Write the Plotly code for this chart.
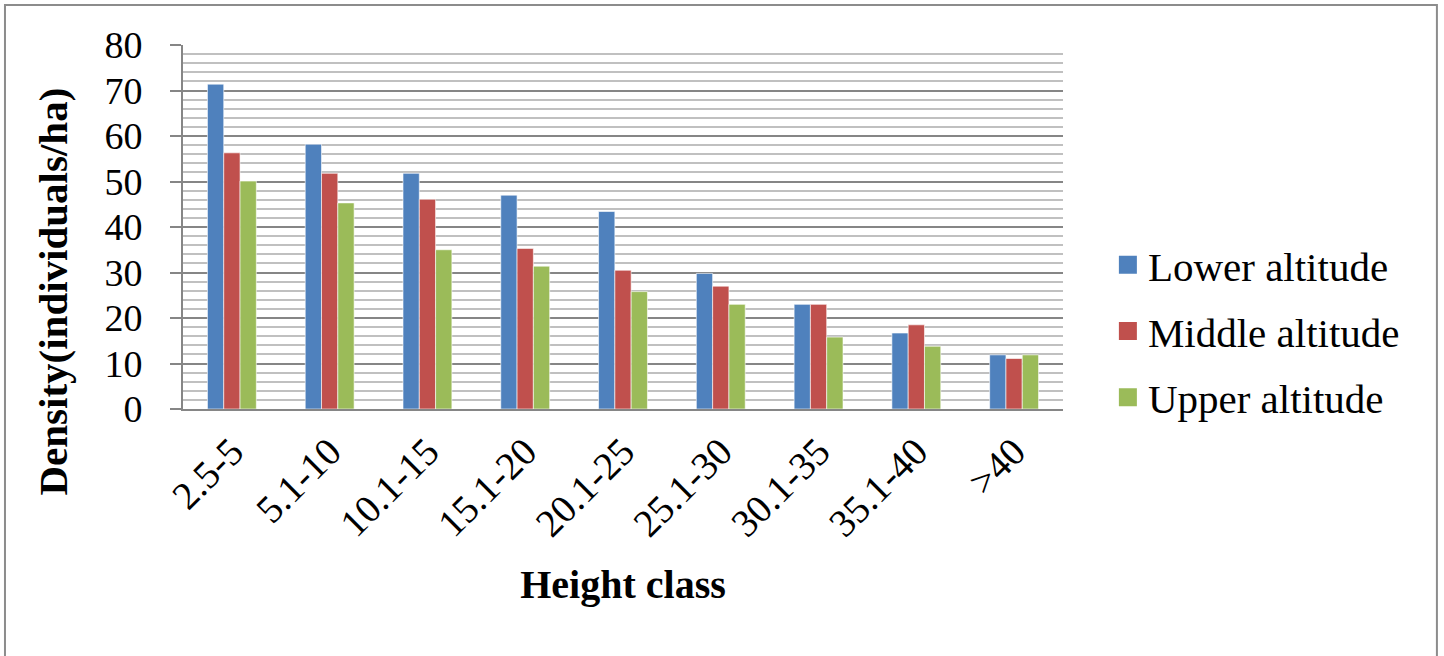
import plotly.graph_objects as go

# Height classes (m) and stem density per altitude zone
height_classes = ["2.5-5", "5.1-10", "10.1-15", "15.1-20", "20.1-25",
                  "25.1-30", "30.1-35", "35.1-40", ">40"]
lower_altitude = [71.4, 58.2, 51.8, 47.0, 43.4, 29.8, 23.0, 16.7, 11.9]
middle_altitude = [56.3, 51.8, 46.1, 35.3, 30.5, 27.0, 23.0, 18.5, 11.1]
upper_altitude = [50.1, 45.3, 35.0, 31.4, 25.8, 23.0, 15.8, 13.8, 11.9]

series = [
    ("Lower altitude", lower_altitude, "#4F81BD"),
    ("Middle altitude", middle_altitude, "#C0504D"),
    ("Upper altitude", upper_altitude, "#9BBB59"),
]

FONT = "Liberation Serif, Times New Roman, serif"

fig = go.Figure()
for i, (name, vals, color) in enumerate(series):
    fig.add_trace(go.Bar(
        x=height_classes, y=vals, name=name,
        marker=dict(color=color, line=dict(color="rgba(255,255,255,0.6)", width=1)),
        legendgroup=f"g{i}", showlegend=False,
    ))
    # larger square swatch for the legend entry
    fig.add_trace(go.Scatter(
        x=[None], y=[None], mode="markers", name=name,
        marker=dict(symbol="square", size=16, color=color,
                    line=dict(color=color, width=2)),
        legendgroup=f"g{i}", showlegend=True,
    ))

fig.update_layout(
    width=1444, height=656,
    margin=dict(l=183, r=381, t=45, b=247),
    paper_bgcolor="white", plot_bgcolor="white",
    barmode="group", bargap=0.5, bargroupgap=0,
    font=dict(family=FONT, color="black", size=38),
    legend=dict(
        x=1.051, xanchor="left", y=0.214, yanchor="middle",
        font=dict(family=FONT, size=41, color="black"),
        tracegroupgap=10, itemwidth=30, itemsizing="trace",
        bgcolor="rgba(0,0,0,0)",
    ),
    shapes=[dict(
        type="rect", xref="paper", yref="paper",
        x0=-0.2023, x1=1.4249, y0=-0.70, y1=1.11,
        line=dict(color="#8c8c8c", width=2), fillcolor="rgba(0,0,0,0)",
        layer="below",
    )],
    annotations=[dict(
        text="<b>Density(individuals/ha)</b>", textangle=-90,
        xref="paper", yref="paper", x=-0.148, y=0.322,
        xanchor="center", yanchor="middle", showarrow=False,
        font=dict(family=FONT, size=41, color="black"),
    )],
)

fig.update_yaxes(
    range=[0, 80], dtick=10, tick0=0,
    showgrid=True, gridcolor="#868686", gridwidth=2,
    minor=dict(dtick=2, showgrid=True, gridcolor="#c0c0c0", gridwidth=2),
    showline=True, linecolor="#868686", linewidth=2,
    ticks="outside", ticklen=11, tickcolor="#868686", tickwidth=2,
    ticklabelstandoff=20,
    tickfont=dict(family=FONT, size=38, color="black"),
    zeroline=False,
)

fig.update_xaxes(
    showgrid=False,
    showline=True, linecolor="#868686", linewidth=2,
    ticks="", tickangle=-45,
    ticklabelstandoff=2,
    tickfont=dict(family=FONT, size=39, color="black"),
    title=dict(text="<b>Height class</b>",
               font=dict(family=FONT, size=40, color="black"), standoff=26),
)

fig.write_html("out.html")
